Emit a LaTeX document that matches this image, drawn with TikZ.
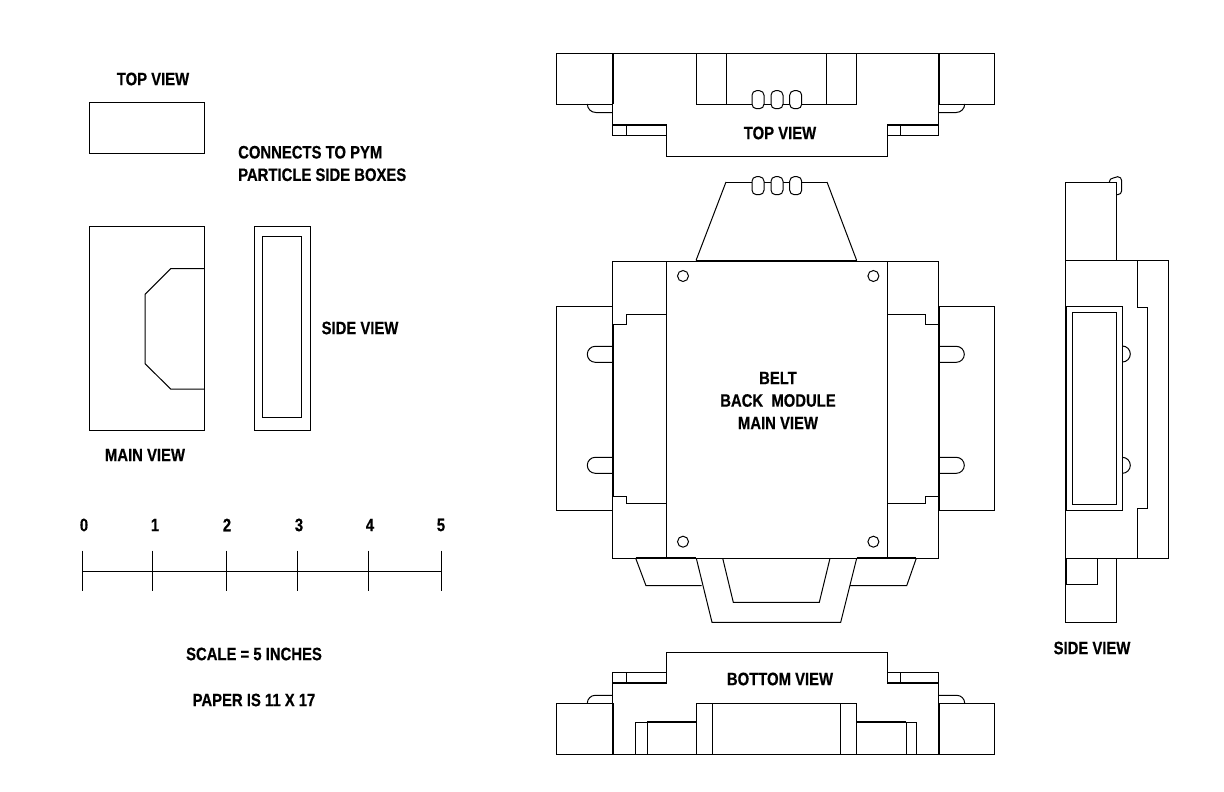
\documentclass[tikz,border=0pt]{standalone}
\usepackage{fontspec}
\setmainfont{Liberation Sans}[FakeStretch=0.825,BoldFeatures={FakeBold=0.5}]
\tikzset{
	plan/.style={line width=1pt, line join=miter},
	heavy/.style={line width=2pt},
	pillbox/.style={line width=1pt, fill=white, rounded corners=4.5pt},
	lbl/.style={inner sep=0pt, font=\fontsize{18}{22.5}\selectfont\bfseries}
}
\def\pill(#1,#2){\draw[pillbox] (#1,#2) rectangle ++(12,18);}
\def\tabl(#1,#2){\draw[plan] (#1,#2) -- ++(-17.4,0) arc (270:90:8) -- ++(17.4,0);}
\def\tabr(#1,#2){\draw[plan] (#1,#2) -- ++(17.6,0) arc (-90:90:8) -- ++(-17.6,0);}
\begin{document}
\begin{tikzpicture}[x=1pt, y=-1pt]
	\useasboundingbox (0,0) rectangle (1224,792);
	%%%%% SMALL BOX %%%%%
	\draw[plan] (89,102) rectangle (204.3,153);
	\draw[plan] (89,226.3) rectangle (204.3,430.3);
	\draw[plan] (204.3,268.7) -- (170.7,268.7) -- (145,294.3) -- (145,363.7) -- (170.7,389) -- (204.3,389);
	\draw[plan] (254,226.3) rectangle (310.3,430.3);
	\draw[plan] (262.7,236.7) rectangle (301.7,417.3);
	\node[lbl] (smalltop) at (153,79) {TOP VIEW};
	\node[lbl, anchor=west, align=left] (connects) at (238,163.5) {CONNECTS TO PYM\\PARTICLE SIDE BOXES};
	\node[lbl] (smallside) at (360,328) {SIDE VIEW};
	\node[lbl] (smallmain) at (145,455) {MAIN VIEW};
	
	%%%%% RULER %%%%%
	\draw[plan] (82,571.3) -- (441.7,571.3);
	\foreach \xt/\num/\xn in {82/0/84, 152.7/1/155, 226/2/227, 297/3/299, 368/4/370, 441.7/5/441}{
		\draw[plan] (\xt,550.7) -- (\xt,591);
		\node[lbl] (num\num) at (\xn,525) {\num};
	}
	\node[lbl] (scale) at (254,654) {SCALE = 5 INCHES};
	\node[lbl] (paper) at (254,700) {PAPER IS 11 X 17};
	
	%%%%% TOP VIEW %%%%%
	\draw[plan] (556.5,53.5) rectangle (612.7,104);
	\draw[plan] (938.7,53.5) rectangle (994,104);
	\draw[plan] (612.7,53.5) -- (938.7,53.5);
	\draw[plan] (612.7,53.5) -- (612.7,135.5) -- (666.7,135.5) -- (666.7,156) -- (887,156) -- (887,135.5) -- (938.7,135.5) -- (938.7,53.5);
	\draw[heavy] (612.7,53.5) -- (612.7,104);
	\draw[heavy] (938.7,53.5) -- (938.7,104);
	\draw[heavy] (612.7,125) -- (666.7,125);
	\draw[heavy] (887,125) -- (938.7,125);
	\draw[plan] (666.7,125) -- (666.7,135.5);
	\draw[plan] (887,125) -- (887,135.5);
	\draw[plan] (626,125) -- (626,135.5);
	\draw[plan] (900,125) -- (900,135.5);
	\draw[plan] (696,53.5) rectangle (856.7,104);
	\draw[plan] (726.7,53.5) -- (726.7,104);
	\draw[plan] (826,53.5) -- (826,104);
	\draw[plan] (587.3,104) arc (180:90:8.5) -- (612.7,112.5);
	\draw[plan] (964.7,104) arc (0:90:8.5) -- (938.7,112.5);
	\pill(752,90.7) \pill(771,90.7) \pill(789.7,90.7)
	\node[lbl] (topview) at (780,133) {TOP VIEW};
	
	%%%%% MAIN VIEW %%%%%
	\draw[plan] (726,182) -- (696,260.5);
	\draw[plan] (827,182) -- (856.7,260.5);
	\draw[plan] (726,182) -- (827,182);
	\pill(752,176.7) \pill(771,176.7) \pill(789.7,176.7)
	\draw[plan] (612.7,261) rectangle (938.7,558.3);
	\draw[plan] (666.7,261) rectangle (887,558.3);
	\draw[heavy] (696,260.5) -- (856.7,260.5);
	\foreach \xc in {683,873.4}{
		\foreach \yc in {276,541.7}{
			\draw[plan] (\xc,\yc) circle (5.5);
		}
	}
	% side panels
	\draw[plan, fill=white] (612.7,324) -- (626.3,324) -- (626.3,314.7) -- (666.2,314.7) -- (666.2,503.7) -- (626.3,503.7) -- (626.3,496.7) -- (612.7,496.7) -- cycle;
	\draw[plan, fill=white] (938.7,324) -- (925.3,324) -- (925.3,314.7) -- (887.4,314.7) -- (887.4,503.7) -- (925.3,503.7) -- (925.3,496.7) -- (938.7,496.7) -- cycle;
	\draw[plan] (556.5,306.7) rectangle (612.7,510);
	\draw[plan] (938.7,306.7) rectangle (994,510);
	\draw[heavy] (612.7,324) -- (612.7,496.7);
	\draw[heavy] (938.7,306.7) -- (938.7,510);
	\tabl(612.7,346.3) \tabl(612.7,457.3)
	\tabr(938.7,346.3) \tabr(938.7,457.3)
	% lower flaps
	\draw[plan] (635.7,558.3) -- (646,585.7) -- (701.7,585.7);
	\draw[plan] (916.3,558.3) -- (906.7,585.7) -- (850,585.7);
	\draw[plan] (696.3,558.3) -- (712,622.3) -- (840.7,622.3) -- (856.7,558.3);
	\draw[plan] (722.7,558.3) -- (733.3,602.3) -- (819.3,602.3) -- (830,558.3);
	\draw[heavy] (635.7,558.3) -- (696.3,558.3);
	\draw[heavy] (856.7,558.3) -- (916.3,558.3);
	\node[lbl, align=center] (beltview) at (778,400.5) {BELT\\BACK\ \ MODULE\\MAIN VIEW};
	
	%%%%% BOTTOM VIEW %%%%%
	\draw[plan] (556.5,703.3) rectangle (612.7,754);
	\draw[plan] (938.7,703.3) rectangle (994,754);
	\draw[plan] (612.7,754) -- (612.7,672.7) -- (666.7,672.7) -- (666.7,652) -- (887,652) -- (887,672.7) -- (938.7,672.7) -- (938.7,754);
	\draw[plan] (556.5,754) -- (994,754);
	\draw[heavy] (612.7,703.3) -- (612.7,754);
	\draw[heavy] (938.7,703.3) -- (938.7,754);
	\draw[heavy] (612.7,683.3) -- (666.7,683.3);
	\draw[heavy] (887,683.3) -- (938.7,683.3);
	\draw[plan] (666.7,672.7) -- (666.7,683.3);
	\draw[plan] (887,672.7) -- (887,683.3);
	\draw[plan] (626,672.7) -- (626,683.3);
	\draw[plan] (900,672.7) -- (900,683.3);
	\draw[plan] (696,754) -- (696,703.3) -- (856.7,703.3) -- (856.7,754);
	\draw[plan] (712,703.3) -- (712,754);
	\draw[plan] (840,703.3) -- (840,754);
	\draw[plan] (635.3,754) -- (635.3,722.3) -- (696,722.3);
	\draw[plan] (647,722.3) -- (647,754);
	\draw[plan] (916.7,754) -- (916.7,722.3) -- (856.7,722.3);
	\draw[plan] (906.3,722.3) -- (906.3,754);
	\draw[heavy] (647,722.3) -- (696,722.3);
	\draw[heavy] (856.7,722.3) -- (906.3,722.3);
	\draw[plan] (587.3,703.3) arc (180:270:8) -- (612.7,695.3);
	\draw[plan] (964.7,703.3) arc (0:-90:8) -- (938.7,695.3);
	\node[lbl] (bottomview) at (780,679) {BOTTOM VIEW};
	
	%%%%% SIDE VIEW %%%%%
	\draw[plan] (1109.3,182) arc (180:270:4) -- (1117.7,176.7) arc (270:360:4) -- (1121.7,190.7) arc (0:90:4) -- (1116,194.7);
	\draw[plan] (1065.3,182) rectangle (1116,260.3);
	\draw[plan] (1065.3,260.7) rectangle (1168.3,558);
	\draw[plan] (1137,260.7) -- (1137,307.3) -- (1147.7,307.3) -- (1147.7,508.3) -- (1137,508.3) -- (1137,558);
	\draw[plan] (1122.3,346) arc (-90:90:8);
	\draw[plan] (1122.3,457.3) arc (-90:90:8);
	\draw[plan] (1066,306.7) rectangle (1122.3,510);
	\draw[plan] (1072,312.7) rectangle (1116.3,504.3);
	\draw[plan] (1065.3,558.5) rectangle (1116,622.3);
	\draw[plan] (1066,558.5) rectangle (1097.3,584);
	\node[lbl] (sideview) at (1092,648) {SIDE VIEW};
\end{tikzpicture}
\end{document}
